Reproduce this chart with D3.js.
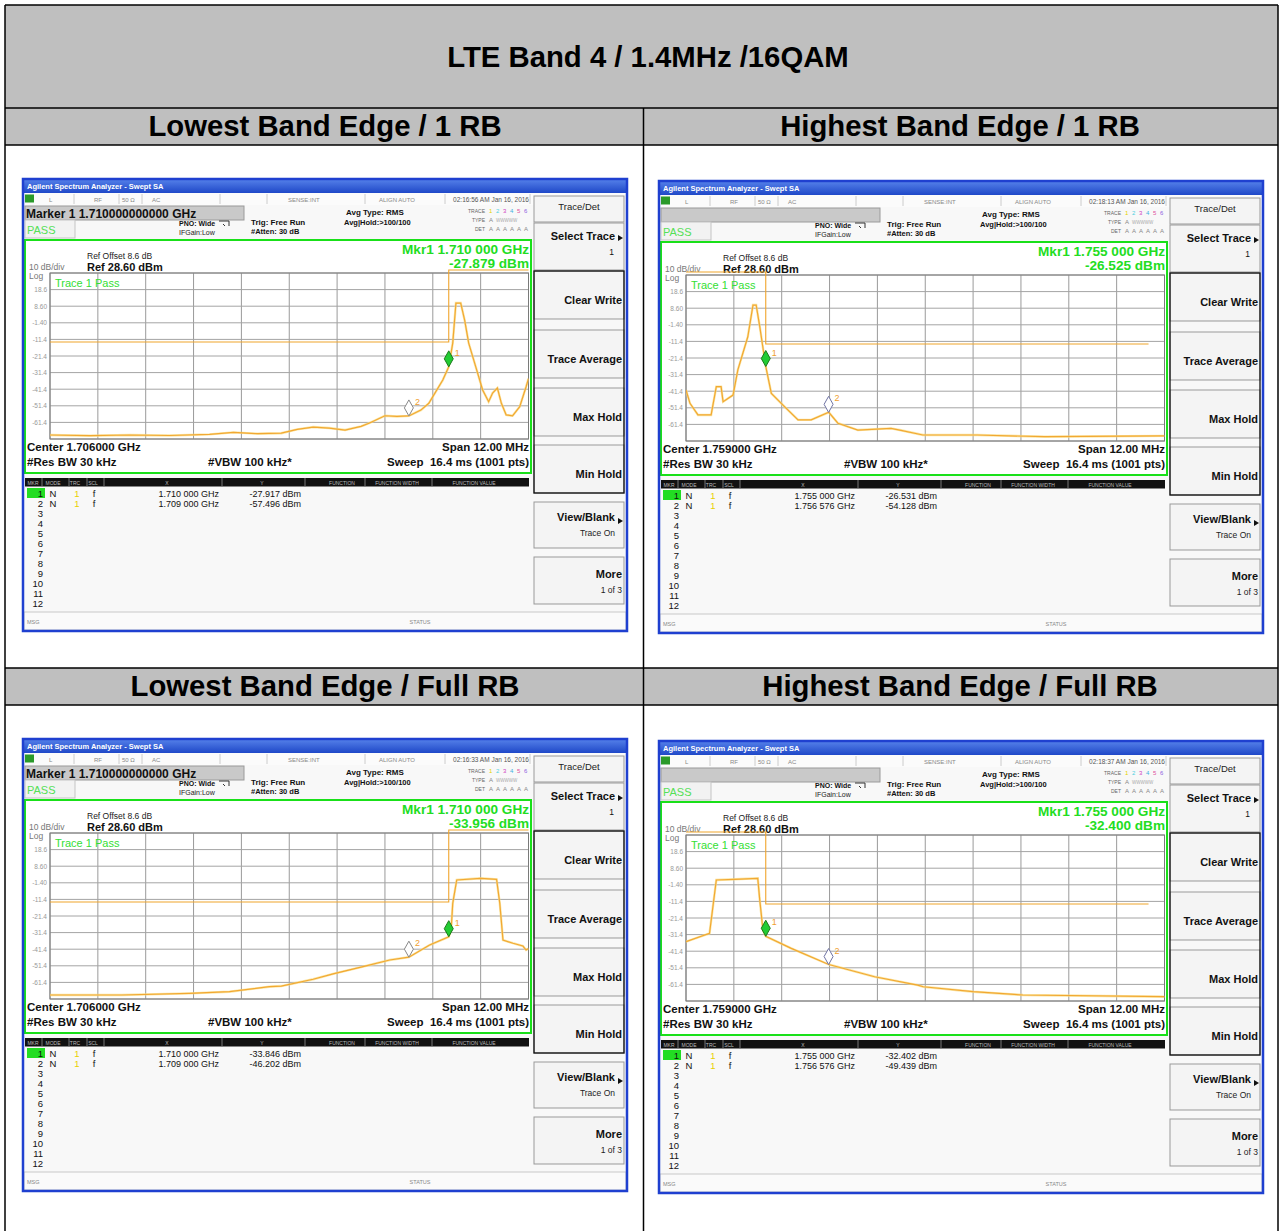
<!DOCTYPE html>
<html>
<head>
<meta charset="utf-8">
<script src="https://cdn.jsdelivr.net/npm/d3@7"></script>
<style>
body { margin: 0; background: #fff; }
svg { display: block; font-family: "Liberation Sans", Arial, sans-serif; }
</style>
</head>
<body>
<svg id="page" width="1280" height="1231"></svg>
<script>
// ---- data ----
var pageTitle = "LTE Band 4 / 1.4MHz /16QAM";
var panelTitles = ["Lowest Band Edge / 1 RB", "Highest Band Edge / 1 RB",
                   "Lowest Band Edge / Full RB", "Highest Band Edge / Full RB"];
var centerGHz = [1.706, 1.759, 1.706, 1.759];
var centerText = ["Center 1.706000 GHz", "Center 1.759000 GHz", "Center 1.706000 GHz", "Center 1.759000 GHz"];
var spanGHz = 0.012;
var refLevel = 28.6;
var dbPerDiv = 10;
var yTickLabels = ["18.6", "8.60", "-1.40", "-11.4", "-21.4", "-31.4", "-41.4", "-51.4", "-61.4"];
var timeStamps = ["02:16:56 AM Jan 16, 2016", "02:18:13 AM Jan 16, 2016",
                  "02:16:33 AM Jan 16, 2016", "02:18:37 AM Jan 16, 2016"];
var markerHeader = ["Marker 1 1.710000000000 GHz", "", "Marker 1 1.710000000000 GHz", ""];
var mkrReadFreq = ["Mkr1 1.710 000 GHz", "Mkr1 1.755 000 GHz", "Mkr1 1.710 000 GHz", "Mkr1 1.755 000 GHz"];
var mkrReadLevel = ["-27.879 dBm", "-26.525 dBm", "-33.956 dBm", "-32.400 dBm"];
var markerFreq = [[1.710, 1.709], [1.755, 1.756576], [1.710, 1.709], [1.755, 1.756576]];
var markerLevel = [[-27.917, -57.496], [-26.531, -54.128], [-33.846, -46.202], [-32.402, -49.439]];
var markerFreqText = [["1.710 000 GHz", "1.709 000 GHz"], ["1.755 000 GHz", "1.756 576 GHz"],
                      ["1.710 000 GHz", "1.709 000 GHz"], ["1.755 000 GHz", "1.756 576 GHz"]];
var markerLevelText = [["-27.917 dBm", "-57.496 dBm"], ["-26.531 dBm", "-54.128 dBm"],
                       ["-33.846 dBm", "-46.202 dBm"], ["-32.402 dBm", "-49.439 dBm"]];

// traces [GHz, dBm]
var traceLow1RB = [[1.7000,-69.0],[1.7010,-69.4],[1.7020,-69.0],[1.7030,-69.3],[1.7040,-68.6],[1.7046,-67.4],
  [1.7052,-68.2],[1.7058,-67.9],[1.7062,-65.6],[1.7066,-64.2],[1.7070,-64.8],[1.7074,-66.0],[1.7078,-63.8],
  [1.7080,-61.9],[1.7084,-57.4],[1.7087,-57.8],[1.7090,-57.5],[1.7093,-54.0],[1.7095,-49.9],[1.70985,-35.9],
  [1.7100,-27.9],[1.7101,-13.6],[1.71018,10.5],[1.7103,10.5],[1.7104,0.0],[1.7105,-13.6],[1.7107,-29.8],
  [1.71085,-41.9],[1.7110,-48.9],[1.7111,-43.7],[1.71122,-40.7],[1.71132,-49.9],[1.71144,-56.9],[1.7116,-57.4],
  [1.71178,-51.9],[1.71194,-39.9],[1.7120,-35.0]];
var traceHigh1RB = [[1.7530,-40.7],[1.7531,-48.7],[1.7533,-55.7],[1.75363,-55.7],[1.75376,-38.7],[1.75388,-38.7],
  [1.75393,-47.7],[1.75418,-43.7],[1.7543,-28.6],[1.75455,-8.6],[1.75468,10.5],[1.75476,10.5],[1.75485,-2.5],
  [1.7550,-26.5],[1.75514,-42.7],[1.75547,-50.7],[1.75581,-58.7],[1.75614,-58.7],[1.75658,-54.1],[1.75681,-60.7],
  [1.75731,-64.8],[1.75814,-63.8],[1.75836,-64.8],[1.75894,-67.8],[1.7603,-67.8],[1.7620,-68.8],[1.7650,-68.3]];
var traceLowFull = [[1.7000,-69.0],[1.7018,-69.0],[1.7035,-68.0],[1.7045,-67.0],[1.7055,-64.0],[1.7058,-63.6],
  [1.7066,-59.5],[1.7071,-56.3],[1.70785,-51.9],[1.70852,-47.9],[1.7090,-46.2],[1.70952,-38.9],[1.7100,-33.9],
  [1.71006,-29.8],[1.7101,-13.8],[1.7102,0.3],[1.7108,1.3],[1.7112,0.7],[1.71128,-13.8],[1.71136,-35.9],
  [1.71161,-37.8],[1.71186,-39.5],[1.71194,-41.9],[1.7120,-41.0]];
var traceHighFull = [[1.7530,-35.7],[1.75359,-30.6],[1.75376,1.5],[1.75422,1.9],[1.7548,2.5],[1.75485,-10.6],
  [1.75493,-28.6],[1.7550,-32.4],[1.75564,-39.7],[1.75658,-49.4],[1.75773,-56.8],[1.75881,-61.8],[1.75895,-62.8],
  [1.7602,-65.8],[1.76145,-67.8],[1.7650,-68.8]];
var traces = [traceLow1RB, traceHigh1RB, traceLowFull, traceHighFull];

// limit line (-13 dBm), 99 = off screen (drawn at top)
var limitLow = [[1.7000,-13],[1.7100,-13],[1.7100,99],[1.7120,99]];
var limitHigh = [[1.7530,99],[1.7550,99],[1.7550,-13],[1.7646,-13]];
var limits = [limitLow, limitHigh, limitLow, limitHigh];

var softkeys = ["Clear Write", "Trace Average", "Max Hold", "Min Hold"];
var tableCols = ["MKR", "MODE", "TRC", "SCL", "X", "Y", "FUNCTION", "FUNCTION WIDTH", "FUNCTION VALUE"];

var panelX = [22, 658, 22, 658];
var panelY = [178, 180, 738, 740];

// ---- page table ----
var svg = d3.select("#page");
var defs = svg.append("defs");
var grad = defs.append("linearGradient").attr("id", "tbar")
    .attr("x1", 0).attr("y1", 0).attr("x2", 0).attr("y2", 1);
grad.append("stop").attr("offset", "0%").attr("stop-color", "#5a86ec");
grad.append("stop").attr("offset", "100%").attr("stop-color", "#1f48c8");

var tL = 5, tR = 1278, midX = 643.5;
[[5, 108], [108, 145], [668, 705]].forEach(function (r) {
    svg.append("rect").attr("x", tL).attr("y", r[0]).attr("width", tR - tL).attr("height", r[1] - r[0])
        .attr("fill", "#bfbfbf");
});
svg.append("text").attr("x", 648).attr("y", 67).attr("text-anchor", "middle")
    .style("font-size", "29.3px").style("font-weight", "bold").text(pageTitle);
[[325, 136, 0], [960, 136, 1], [325, 696, 2], [960, 696, 3]].forEach(function (h) {
    svg.append("text").attr("x", h[0]).attr("y", h[1]).attr("text-anchor", "middle")
        .style("font-size", "29.3px").style("font-weight", "bold").text(panelTitles[h[2]]);
});

// ---- one analyzer screenshot ----
var SW = 606, SH = 454;
var grid = {left: 28, right: 506.5, top: 95, bottom: 261};

function txt(g, x, y, s, size, opts) {
    opts = opts || {};
    return g.append("text").attr("x", x).attr("y", y)
        .attr("text-anchor", opts.anchor || "start")
        .attr("fill", opts.fill || "#111")
        .style("font-size", size + "px")
        .style("font-weight", opts.bold ? "bold" : "normal")
        .text(s);
}

function drawScreen(p) {
    var g = svg.append("g").attr("transform", "translate(" + panelX[p] + "," + panelY[p] + ")");
    var x = d3.scaleLinear().domain([centerGHz[p] - spanGHz / 2, centerGHz[p] + spanGHz / 2])
        .range([grid.left, grid.right]);
    var y = d3.scaleLinear().domain([refLevel - 10 * dbPerDiv, refLevel]).range([grid.bottom, grid.top]);

    g.append("rect").attr("width", SW).attr("height", SH).attr("fill", "#f8f8f8");

    // title bar
    g.append("rect").attr("width", SW).attr("height", 15).attr("fill", "url(#tbar)");
    txt(g, 5, 11, "Agilent Spectrum Analyzer - Swept SA", 7.5, {bold: true, fill: "#fff"});

    // status row
    g.append("rect").attr("x", 2).attr("y", 15).attr("width", SW - 4).attr("height", 12).attr("fill", "#fbfbfb");
    g.append("rect").attr("x", 3).attr("y", 16.5).attr("width", 9).attr("height", 8).attr("fill", "#2a9a2a");
    [52, 97, 120, 198, 245, 343, 423, 508].forEach(function (s) {
        g.append("line").attr("x1", s).attr("x2", s).attr("y1", 16).attr("y2", 26).attr("stroke", "#ccc");
    });
    [[27, "L"], [72, "RF"], [100, "50 Ω"], [130, "AC"], [266, "SENSE:INT"], [357, "ALIGN AUTO"]].forEach(function (s) {
        txt(g, s[0], 24, s[1], 6, {fill: "#888"});
    });
    txt(g, 507, 24, timeStamps[p], 6.5, {anchor: "end", fill: "#555"});

    // marker header and pass box
    g.append("rect").attr("x", 3).attr("y", 28).attr("width", 219).attr("height", 14)
        .attr("fill", "#c9c9c9").attr("stroke", "#9a9a9a");
    txt(g, 4, 39.5, markerHeader[p], 12, {bold: true});
    g.append("rect").attr("x", 3).attr("y", 42).attr("width", 50).attr("height", 18)
        .attr("fill", "#f2f2f2").attr("stroke", "#c4c4c4");
    txt(g, 5, 56, "PASS", 11, {fill: "#55e055"});
    txt(g, 157, 48, "PNO: Wide", 7, {bold: true});
    g.append("path").attr("d", "M197,43 h10 v5 M203,48 l-2,-2").attr("fill", "none").attr("stroke", "#333");
    txt(g, 157, 57, "IFGain:Low", 7, {fill: "#222"});
    txt(g, 229, 46.5, "Trig: Free Run", 8, {bold: true});
    txt(g, 229, 56, "#Atten: 30 dB", 7.5, {bold: true});
    txt(g, 324, 36.5, "Avg Type: RMS", 8, {bold: true});
    txt(g, 322, 46.5, "Avg|Hold:>100/100", 7.5, {bold: true});
    txt(g, 463, 34.5, "TRACE", 5, {anchor: "end", fill: "#666"});
    txt(g, 463, 44, "TYPE", 5, {anchor: "end", fill: "#666"});
    txt(g, 463, 53, "DET", 5, {anchor: "end", fill: "#666"});
    var trColors = ["#e6d200", "#4fd0e0", "#d040c0", "#40b0e0", "#e050a0", "#9060e0"];
    trColors.forEach(function (c, k) {
        txt(g, 467 + k * 7, 35, String(k + 1), 6, {fill: c});
        txt(g, 467 + k * 7, 53, "A", 6, {fill: "#888"});
    });
    txt(g, 467, 44, "A", 6, {fill: "#888"});
    txt(g, 474, 44, "WWWWW", 4.5, {fill: "#aaa"});

    // graph area
    g.append("rect").attr("x", 3).attr("y", 62).attr("width", 506).attr("height", 233)
        .attr("fill", "#fff").attr("stroke", "#19e019").attr("stroke-width", 2);
    txt(g, 65, 81, "Ref Offset 8.6 dB", 8.5, {fill: "#222"});
    txt(g, 65, 93, "Ref 28.60 dBm", 11, {bold: true});
    txt(g, 7, 92, "10 dB/div", 8.5, {fill: "#777"});
    txt(g, 7, 100.5, "Log", 8.5, {fill: "#777"});
    txt(g, 507, 76, mkrReadFreq[p], 13.6, {bold: true, anchor: "end", fill: "#22dd22"});
    txt(g, 507, 90, mkrReadLevel[p], 13.6, {bold: true, anchor: "end", fill: "#22dd22"});

    var xs = d3.range(11).map(function (k) { return x.domain()[0] + k * spanGHz / 10; });
    var ys = d3.range(11).map(function (k) { return refLevel - k * dbPerDiv; });
    g.append("g").selectAll("line").data(xs).enter().append("line")
        .attr("x1", function (d) { return x(d); }).attr("x2", function (d) { return x(d); })
        .attr("y1", grid.top).attr("y2", grid.bottom).attr("stroke", "#9a9a9a");
    g.append("g").selectAll("line").data(ys).enter().append("line")
        .attr("y1", function (d) { return y(d); }).attr("y2", function (d) { return y(d); })
        .attr("x1", grid.left).attr("x2", grid.right).attr("stroke", "#a4a4a4");
    g.append("rect").attr("x", grid.left).attr("y", grid.top)
        .attr("width", grid.right - grid.left).attr("height", grid.bottom - grid.top)
        .attr("fill", "none").attr("stroke", "#7a7a7a");
    yTickLabels.forEach(function (s, k) {
        txt(g, 25, y(refLevel - (k + 1) * dbPerDiv) + 2.5, s, 6.5, {anchor: "end", fill: "#999"});
    });
    txt(g, 33, 109, "Trace 1 Pass", 11, {fill: "#33e033"});

    defs.append("clipPath").attr("id", "clip" + p).append("rect")
        .attr("x", grid.left).attr("y", grid.top)
        .attr("width", grid.right - grid.left).attr("height", grid.bottom - grid.top);

    var limLine = d3.line()
        .x(function (d) { return x(d[0]); })
        .y(function (d) { return Math.max(y(d[1]), grid.top - 3); });
    g.append("path").attr("d", limLine(limits[p])).attr("fill", "none")
        .attr("stroke", "#f0a52c").attr("stroke-width", 1.1);

    var trLine = d3.line().x(function (d) { return x(d[0]); }).y(function (d) { return y(d[1]); });
    g.append("path").attr("d", trLine(traces[p])).attr("clip-path", "url(#clip" + p + ")")
        .attr("fill", "none").attr("stroke", "#f8dc80").attr("stroke-width", 2.4).attr("opacity", 0.7);
    g.append("path").attr("d", trLine(traces[p])).attr("clip-path", "url(#clip" + p + ")")
        .attr("fill", "none").attr("stroke", "#f2a832").attr("stroke-width", 1.2);

    // markers (diamond tip sits on the trace)
    markerFreq[p].forEach(function (f, k) {
        var cx = x(f), cy = y(markerLevel[p][k]);
        g.append("path").attr("d", "M" + cx + "," + cy + " l-4.5,-8 l4.5,-8 l4.5,8 z")
            .attr("fill", k === 0 ? "#22cc33" : "#fff")
            .attr("stroke", k === 0 ? "#1a7a1a" : (p % 2 ? "#7074a4" : "#888"))
            .attr("stroke-width", 1);
        txt(g, cx + 6, cy - 11, String(k + 1), 9, {fill: "#f0a030"});
    });

    txt(g, 5, 273, centerText[p], 11.5, {bold: true});
    txt(g, 507, 273, "Span 12.00 MHz", 11.5, {bold: true, anchor: "end"});
    txt(g, 5, 288, "#Res BW 30 kHz", 11.5, {bold: true});
    txt(g, 186, 288, "#VBW 100 kHz*", 11.5, {bold: true});
    txt(g, 507, 288, "Sweep\u00a0\u00a016.4 ms (1001 pts)", 11.5, {bold: true, anchor: "end"});

    // marker table
    g.append("rect").attr("x", 3).attr("y", 300).attr("width", 504).attr("height", 8.5).attr("fill", "#111");
    [20, 47, 65, 82, 200, 283, 343, 410].forEach(function (s) {
        g.append("line").attr("x1", s).attr("x2", s).attr("y1", 300).attr("y2", 308.5).attr("stroke", "#777");
    });
    [11, 31, 53, 71, 145, 240, 320, 375, 452].forEach(function (cx, k) {
        txt(g, cx, 306.5, tableCols[k], 5, {anchor: "middle", fill: "#bbb"});
    });
    g.append("rect").attr("x", 5).attr("y", 310).attr("width", 18).attr("height", 10).attr("fill", "#22dd22");
    d3.range(12).forEach(function (k) {
        txt(g, 21, 318.5 + k * 10, String(k + 1), 9.5, {anchor: "end"});
    });
    markerFreqText[p].forEach(function (s, k) {
        var by = 318.5 + k * 10;
        txt(g, 31, by, "N", 9.5, {anchor: "middle"});
        txt(g, 55, by, "1", 9.5, {anchor: "middle", fill: "#e8d000"});
        txt(g, 72, by, "f", 9.5, {anchor: "middle"});
        txt(g, 197, by, s, 9, {anchor: "end"});
        txt(g, 279, by, markerLevelText[p][k], 9, {anchor: "end"});
    });

    // bottom status bar
    g.append("rect").attr("x", 2).attr("y", 434).attr("width", SW - 4).attr("height", 18)
        .attr("fill", "#fafafa").attr("stroke", "#c8c8c8");
    txt(g, 5, 446, "MSG", 5.5, {fill: "#888"});
    txt(g, 398, 446, "STATUS", 5.5, {anchor: "middle", fill: "#888"});

    // softkeys
    var kx = 512, kw = 90;
    g.append("rect").attr("x", kx).attr("y", 18).attr("width", kw).attr("height", 26)
        .attr("fill", "#f4f4f4").attr("stroke", "#999");
    txt(g, kx + kw / 2, 32, "Trace/Det", 9.5, {anchor: "middle", fill: "#222"});
    g.append("rect").attr("x", kx).attr("y", 45).attr("width", kw).attr("height", 47)
        .attr("fill", "#f4f4f4").attr("stroke", "#999");
    txt(g, 593, 62, "Select Trace", 11, {bold: true, anchor: "end"});
    g.append("path").attr("d", "M596,57 l5,3 l-5,3 z").attr("fill", "#111");
    txt(g, 592, 76.5, "1", 8.5, {anchor: "end"});

    var keyTop = [93, 152, 210, 267], keyH = 48;
    keyTop.forEach(function (t, k) {
        g.append("rect").attr("x", kx).attr("y", t).attr("width", kw).attr("height", keyH)
            .attr("fill", "#f4f4f4").attr("stroke", "#999");
        txt(g, 600, t + 33, softkeys[k], 11, {bold: true, anchor: "end"});
    });
    g.append("rect").attr("x", kx).attr("y", 93).attr("width", kw).attr("height", 222)
        .attr("fill", "none").attr("stroke", "#111").attr("stroke-width", 1.3);
    g.append("rect").attr("x", kx).attr("y", 324).attr("width", kw).attr("height", 46)
        .attr("fill", "#f4f4f4").attr("stroke", "#999");
    txt(g, 593, 343, "View/Blank", 11, {bold: true, anchor: "end"});
    g.append("path").attr("d", "M596,340 l5,3 l-5,3 z").attr("fill", "#111");
    txt(g, 593, 358, "Trace On", 8.5, {anchor: "end", fill: "#222"});
    g.append("rect").attr("x", kx).attr("y", 379).attr("width", kw).attr("height", 47)
        .attr("fill", "#f4f4f4").attr("stroke", "#999");
    txt(g, 600, 400, "More", 11, {bold: true, anchor: "end"});
    txt(g, 600, 415, "1 of 3", 8.5, {anchor: "end", fill: "#222"});

    // window frame
    g.append("rect").attr("x", 1).attr("y", 1).attr("width", SW - 2).attr("height", SH - 2)
        .attr("fill", "none").attr("stroke", "#1f40d0").attr("stroke-width", 2.5);
}

[0, 1, 2, 3].forEach(drawScreen);

// table grid lines on top
var lines = svg.append("g").attr("stroke", "#000").attr("stroke-width", 1.5);
[5, 108, 145, 668, 705].forEach(function (yy) {
    lines.append("line").attr("x1", tL).attr("x2", tR).attr("y1", yy).attr("y2", yy);
});
lines.append("line").attr("x1", tL).attr("x2", tL).attr("y1", 5).attr("y2", 1231);
lines.append("line").attr("x1", tR).attr("x2", tR).attr("y1", 5).attr("y2", 1231);
lines.append("line").attr("x1", midX).attr("x2", midX).attr("y1", 108).attr("y2", 1231);
</script>
</body>
</html>
